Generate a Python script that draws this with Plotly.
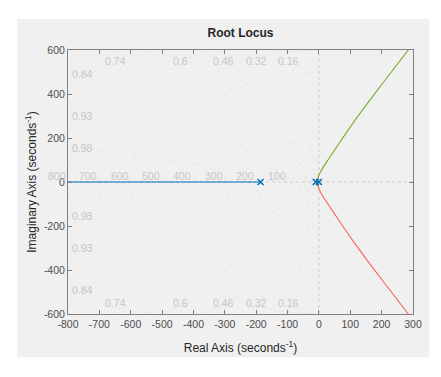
import numpy as np
import plotly.graph_objects as go

# ---- data ----
poles_real = [-186, -10, 0]
poles_imag = [0, 0, 0]

blue_real = [-186, -800]
blue_imag = [0, 0]

green_real = [0, -5, -4, 0, 11, 32, 64, 107, 154, 204, 285]
green_imag = [0, 0, 12, 31, 61, 107, 175, 264, 356, 450, 600]

red_real = [-10, -5, -4, 0, 11, 32, 64, 107, 154, 204, 285]
red_imag = [0, 0, -12, -31, -61, -107, -175, -264, -356, -450, -600]

zeta_vals = [0.16, 0.32, 0.46, 0.6, 0.74, 0.84, 0.93, 0.98]
wn_vals = [100, 200, 300, 400, 500, 600, 700, 800]

x_ticks = [-800, -700, -600, -500, -400, -300, -200, -100, 0, 100, 200, 300]
x_tick_text = ["-800", "-700", "-600", "-500", "-400", "-300", "-200", "-100", "0", "100", "200", "300"]
y_ticks = [-600, -400, -200, 0, 200, 400, 600]
y_tick_text = ["-600", "-400", "-200", "0", "200", "400", "600"]

XMIN, XMAX, YMIN, YMAX = -800, 300, -600, 600

GRID = "#e8e8e8"
GLAB = "#c6c6c6"
AX = "#808080"
TXT = "#4d4d4d"
FONT = "Liberation Sans, Arial, sans-serif"

fig = go.Figure()

# sgrid: natural-frequency semicircles
for wn in wn_vals:
    th = np.linspace(np.pi / 2, 3 * np.pi / 2, 121)
    fig.add_trace(go.Scatter(x=wn * np.cos(th), y=wn * np.sin(th), mode="lines",
                             line=dict(color=GRID, width=1, dash="dot"),
                             hoverinfo="skip", showlegend=False))
# sgrid: damping rays
R = 3000
for z in zeta_vals:
    th = np.arccos(z)
    fig.add_trace(go.Scatter(x=[0, -R * np.cos(th), None, 0, -R * np.cos(th)],
                             y=[0, R * np.sin(th), None, 0, -R * np.sin(th)],
                             mode="lines", line=dict(color=GRID, width=1, dash="dot"),
                             hoverinfo="skip", showlegend=False))
# axes lines through origin
fig.add_trace(go.Scatter(x=[XMIN, XMAX, None, 0, 0], y=[0, 0, None, YMIN, YMAX], mode="lines",
                         line=dict(color="#c8c8c8", width=1, dash="dot"),
                         hoverinfo="skip", showlegend=False))

# locus branches
fig.add_trace(go.Scatter(x=blue_real, y=blue_imag, mode="lines",
                         line=dict(color="#0072BD", width=1.1), showlegend=False))
fig.add_trace(go.Scatter(x=green_real, y=green_imag, mode="lines",
                         line=dict(color="#77AC30", width=1.1, shape="spline", smoothing=0.8),
                         showlegend=False))
fig.add_trace(go.Scatter(x=red_real, y=red_imag, mode="lines",
                         line=dict(color="#F5665A", width=1.1, shape="spline", smoothing=0.8),
                         showlegend=False))
fig.add_trace(go.Scatter(x=poles_real, y=poles_imag, mode="markers",
                         marker=dict(symbol="x-thin", size=6, line=dict(color="#0072BD", width=1.5)),
                         showlegend=False))

annotations = []
# zeta labels
for z in zeta_vals:
    th = np.arccos(z)
    t = np.tan(th)
    for sgn in (1, -1):
        if t > YMAX / -XMIN:
            ax_, ay_ = -590 / t, 548
        else:
            ax_, ay_ = -755, 760 * t
        annotations.append(dict(x=ax_, y=sgn * ay_, xref="x", yref="y", text=f"{z:g}",
                                showarrow=False, font=dict(size=10.5, color=GLAB, family=FONT),
                                xanchor="center", yanchor="middle"))
# wn labels
for wn in wn_vals:
    annotations.append(dict(x=-wn, y=0, xref="x", yref="y", text=str(wn), showarrow=False,
                            font=dict(size=10.5, color=GLAB, family=FONT),
                            xanchor="right", yanchor="bottom", yshift=-2))

# page body has an 8px default margin, so the figure is 8px smaller and shifted
fig.update_layout(
    width=433, height=369,
    margin=dict(l=60, r=28, t=42, b=63),
    paper_bgcolor="white", plot_bgcolor="white",
    font=dict(family=FONT, color=TXT, size=10.5),
    title=dict(text="<b>Root Locus</b>", xref="paper", x=0.5, xanchor="center", y=0.932,
               yanchor="middle", font=dict(size=12, color="#262626", family=FONT)),
    annotations=annotations,
    shapes=[dict(type="rect", xref="paper", yref="paper", x0=-0.148, x1=1.047, y0=-0.164, y1=1.117,
                 fillcolor="#f0f0f0", line=dict(width=0), layer="below")],
)
fig.update_xaxes(range=[XMIN, XMAX], tickvals=x_ticks, ticktext=x_tick_text, ticks="inside",
                 ticklen=4, tickcolor=AX, showline=True, linecolor=AX, linewidth=1, mirror="ticks",
                 showgrid=False, zeroline=False, tickfont=dict(size=10.5, color=TXT),
                 title=dict(text="Real Axis (seconds<sup>-1</sup>)", font=dict(size=12, color="#262626"),
                            standoff=15))
fig.update_yaxes(range=[YMIN, YMAX], tickvals=y_ticks, ticktext=y_tick_text, ticks="inside",
                 ticklen=4, tickcolor=AX, showline=True, linecolor=AX, linewidth=1, mirror="ticks",
                 showgrid=False, zeroline=False, tickfont=dict(size=10.5, color=TXT),
                 title=dict(text="Imaginary Axis (seconds<sup>-1</sup>)", font=dict(size=12, color="#262626"),
                            standoff=4))

fig.write_html("out.html")
